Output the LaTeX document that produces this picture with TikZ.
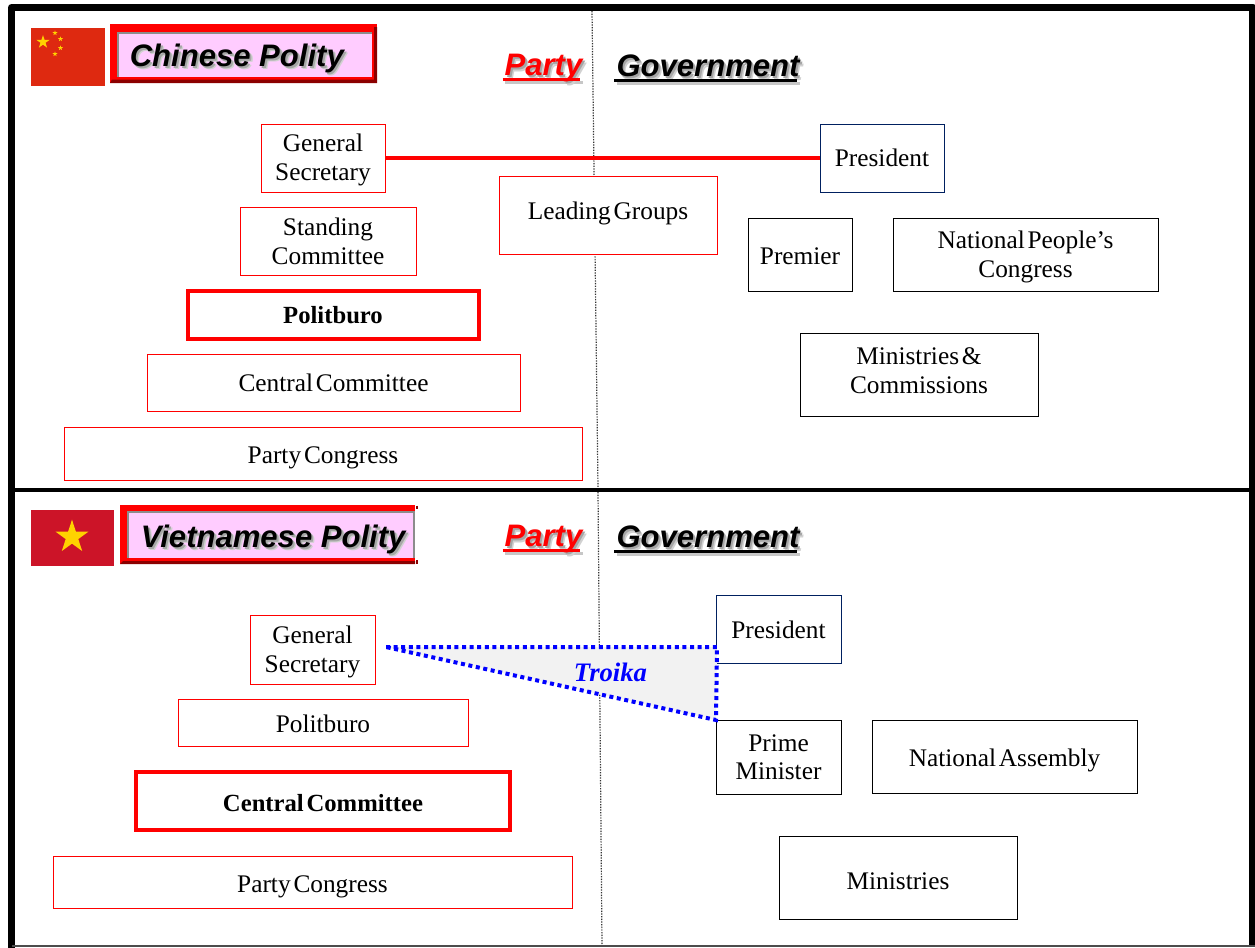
\documentclass[tikz,border=0pt]{standalone}
\usepackage{fontspec}
\setmainfont{Liberation Serif}[WordSpace=0.45]
\setsansfont{Liberation Sans}
\usetikzlibrary{shapes.geometric}
\definecolor{flagcn}{HTML}{DE2910}
\definecolor{flagvn}{HTML}{CC1428}
\definecolor{starcol}{HTML}{FFD200}
\definecolor{pinkfill}{HTML}{FFCCFF}
\definecolor{darkred}{HTML}{8B0000}
\definecolor{navybox}{HTML}{002060}
\newcommand{\shadowed}[1]{%
  \rlap{\kern2.4pt\raisebox{-2.4pt}{\color{black!18}#1}}%
  \rlap{\kern1.4pt\raisebox{-1.4pt}{\color{black!35}#1}}#1}
\newlength{\headlen}
\newcommand{\headtext}[1]{\settowidth{\headlen}{#1}%
  \rlap{\kern0.4pt\color{black!22}\rule[-6pt]{\headlen}{2.4pt}}%
  \shadowed{#1}\llap{\rule[-3.7pt]{\headlen}{2.3pt}\kern1.6pt}}
\tikzset{
  size/.style 2 args={minimum width=#1*0.75pt,minimum height=#2*0.75pt},
  polbox/.style={draw,fill=white,inner sep=0pt,outer sep=0pt,align=center,text depth=-2pt,font=\fontsize{19}{21.6}\selectfont},
  twolines/.style={text depth=1pt},
  lift/.style={text height=#1,text depth=0pt},
  partybox/.style={polbox,draw=red,line width=0.6pt},
  keybox/.style={polbox,draw=red,line width=3pt,font=\fontsize{18.5}{21.6}\selectfont\bfseries},
  govbox/.style={polbox,draw=black,line width=0.6pt},
  headbox/.style={polbox,draw=navybox,line width=0.6pt},
  titletext/.style={inner sep=0pt,anchor=west,font=\fontsize{23.3}{28}\selectfont\sffamily\bfseries\itshape},
  headlabel/.style={inner sep=0pt,font=\fontsize{23.3}{28}\selectfont\sffamily\bfseries\itshape},
  flagstar/.style={star,star points=5,star point ratio=2.618,fill=starcol,draw=none,inner sep=0pt},
  troikaline/.style={draw=blue,line width=3pt,dash pattern=on 3pt off 2.7pt},
  divider/.style={black!80,line width=0.9pt,dash pattern=on 1pt off 1pt},
}
\begin{document}
\begin{tikzpicture}[x=0.75pt,y=-0.75pt]
\useasboundingbox (0,0) rectangle (1255,947);
\fill[white] (0,0) rectangle (1255,947);
% Divider
\draw[divider] (592,11) -- (598,488);
\draw[divider] (598,492) -- (602,945);
% Chinese heading
\fill[flagcn] (31,28) rectangle (105,86);
\node[flagstar,minimum size=10.5pt] (cnbig) at (43,42) {};
\foreach \sx/\sy [count=\si] in {55/33,60.5/39,60.5/48,55/54}
  \node[flagstar,minimum size=4pt] (cnsmall\si) at (\sx,\sy) {};
\fill[red] (110,24) rectangle (377,83);
\fill[darkred] (377,27) -- (377,83) -- (110,83) -- (112,79.5) -- (374,79.5) -- (374,27) -- cycle;
\fill[pinkfill] (118,33) rectangle (372,77);
\draw[black!45,line width=1.2pt] (118,77) -- (118,33) -- (372,33);
\node[titletext] (cntitle) at (129.5,60) {\shadowed{Chinese Polity}};
\node[headlabel] (cnparty) at (543.5,70) {\color{red}\headtext{Party}};
\node[headlabel] (cngov) at (708,70) {\headtext{Government}};
% Chinese party side
\node[partybox,twolines,size={124}{68}] (cnsec) at (323,158) {General\\Secretary};
\node[partybox,size={176}{68},text depth=-1pt] (cnstand) at (328,241) {Standing\\Committee};
\node[keybox,size={291}{48}] (cnpolit) at (333,315) {Politburo};
\node[partybox,size={373}{57}] (cncc) at (333.5,382.5) {Central Committee};
\node[partybox,size={518}{53},lift=14.5pt] (cncong) at (323,453.5) {Party Congress};
\node[partybox,size={218}{78},text depth=7pt] (cnlead) at (608,215) {Leading Groups};
% Chinese government side
\node[headbox,size={124}{68}] (cnpres) at (882,158) {President};
\node[govbox,size={104}{73},lift=14.5pt] (cnprem) at (800,254.5) {Premier};
\node[govbox,size={265}{73},text depth=-0.5pt] (cnnpc) at (1025.5,254.5) {National People’s\\Congress};
\node[govbox,size={238}{83},text depth=6.2pt] (cnmin) at (919,374.5) {Ministries \&\hspace{0.2em}\\Commissions};
\draw[red,line width=3pt] (cnsec.east) -- (cnpres.west);
% Vietnamese heading
\fill[flagvn] (31,510) rectangle (114,566);
\node[flagstar,minimum size=26pt] (vnbig) at (72,537) {};
\fill[red] (120,505) rectangle (415,564);
\fill[darkred] (120,564) -- (415,564) -- (415,561) -- (123,561) -- cycle;
\fill[pinkfill] (128,512) rectangle (414,558);
\draw[black!45,line width=1.2pt] (128,558) -- (128,512) -- (414,512) -- (414,558);
\draw[darkred,line width=1.2pt] (417,505.5) -- (417,509);
\draw[darkred,line width=1.2pt] (417,560) -- (417,564);
\node[titletext] (vntitle) at (140.5,541) {\shadowed{Vietnamese Polity}};
\node[headlabel] (vnparty) at (543.5,541) {\color{red}\headtext{Party}};
\node[headlabel] (vngov) at (708,541) {\headtext{Government}};
% Vietnamese party side
\node[partybox,size={125}{69},text depth=-1.5pt] (vnsec) at (312.5,649.5) {General\\Secretary};
\node[partybox,size={290}{47},lift=14.5pt] (vnpolit) at (323,722.5) {Politburo};
\node[keybox,size={374}{58},lift=16pt] (vncc) at (323,801) {Central Committee};
\node[partybox,size={519}{52},lift=16pt] (vncong) at (312.5,882) {Party Congress};
% Vietnamese government side
\node[headbox,size={125}{68},lift=14.5pt] (vnpres) at (778.5,629) {President};
\node[govbox,size={125}{74},text depth=-0.5pt] (vnpm) at (778.5,757) {Prime\\Minister};
\node[govbox,size={265}{73},lift=14.5pt] (vnna) at (1004.5,756.5) {National Assembly};
\node[govbox,size={238}{83},lift=17.5pt] (vnmin) at (898,877.5) {Ministries};
% Troika
\coordinate (trapex) at (386,647);
\coordinate (trtop) at (717,647);
\fill[black!5] (trapex) -- (trtop) -- (vnpm.north west) -- cycle;
\draw[troikaline] (trapex) -- (trtop) -- (vnpm.north west) -- cycle;
\node[inner sep=0pt,text=blue,font=\fontsize{20}{23}\selectfont\bfseries\itshape] (troika) at (610.5,672.5) {Troika};
% Frame
\draw[black,line width=5.4pt,line join=round] (11.5,948) -- (11.5,7.5) -- (1253,7.5) -- (1253,947);
\draw[black,line width=3pt] (12,490) -- (1255,490);
\draw[black!70,line width=1pt] (12,946) -- (1255,946);
\end{tikzpicture}
\end{document}
